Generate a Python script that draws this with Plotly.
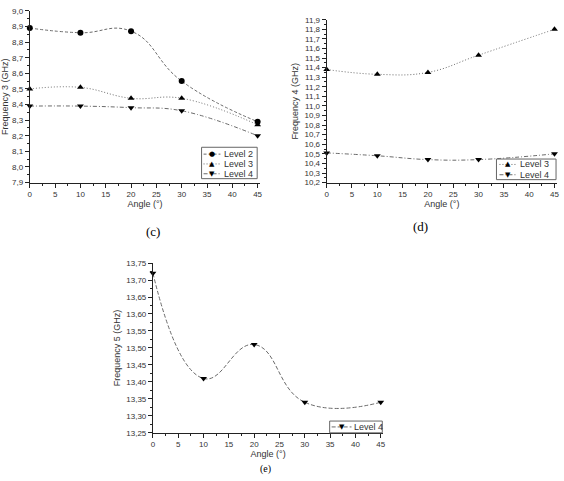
import plotly.graph_objects as go

angles = [0, 10, 20, 30, 45]

# (c) Frequency 3
c_level2 = [8.89, 8.86, 8.87, 8.55, 8.29]
c_level3 = [8.50, 8.51, 8.44, 8.44, 8.27]
c_level4 = [8.39, 8.39, 8.38, 8.36, 8.20]

# (d) Frequency 4
d_level3 = [11.38, 11.33, 11.35, 11.53, 11.80]
d_level4 = [10.51, 10.48, 10.44, 10.44, 10.50]

# (e) Frequency 5
e_level4 = [13.72, 13.41, 13.51, 13.34, 13.34]

W, H = 564, 481
def px(x): return x / W
def py(y): return 1 - y / H

FONT = "Liberation Sans, Arial, sans-serif"
SERIF = "Liberation Serif, Times New Roman, serif"
LINE = "#6a6a6a"
TXT = "#333333"

DASH2 = "3px,2px"
DASH3 = "1px,2px"
DASH4 = "4px,2px,1px,2px"
DASH5 = "4px,2px"

SYM = {"circle": "●", "triangle-up": "▲", "triangle-down": "▼"}

fig = go.Figure()

def add(x, y, name, sym, dash, xa, ya, smooth=1.2):
    fig.add_trace(go.Scatter(
        x=x, y=y, name=name, mode="lines+markers", showlegend=False,
        line=dict(shape="spline", smoothing=smooth, color=LINE, width=1, dash=dash),
        marker=dict(symbol=sym, size=6, color="black"),
        xaxis=xa, yaxis=ya, cliponaxis=False))

add(angles, c_level2, "Level 2", "circle", DASH2, "x", "y", 1.3)
add(angles, c_level3, "Level 3", "triangle-up", DASH3, "x", "y")
add(angles, c_level4, "Level 4", "triangle-down", DASH4, "x", "y")
add(angles, d_level3, "Level 3", "triangle-up", DASH3, "x2", "y2")
add(angles, d_level4, "Level 4", "triangle-down", DASH4, "x2", "y2")
add(angles, e_level4, "Level 4", "triangle-down", DASH5, "x3", "y3", 1.3)

def xaxis(dom, anchor):
    return dict(domain=dom, anchor=anchor, range=[0, 45.5], dtick=5, tick0=0,
                showgrid=False, zeroline=False, showline=True, linecolor="#222",
                linewidth=1, ticks="outside", ticklen=4, tickcolor="#222",
                minor=dict(ticks="outside", ticklen=2, dtick=2.5, tickcolor="#222"),
                tickfont=dict(size=8, family=FONT, color=TXT),
                title=dict(text="Angle (°)", font=dict(size=9, family=FONT, color=TXT), standoff=2))

def yaxis(dom, anchor, rng, dtick, fmt, title, minor):
    return dict(domain=dom, anchor=anchor, range=rng, dtick=dtick, tick0=rng[0],
                tickformat=fmt,
                showgrid=False, zeroline=False, showline=True, linecolor="#222",
                linewidth=1, ticks="outside", ticklen=4, tickcolor="#222",
                minor=dict(ticks="outside", ticklen=2, dtick=minor, tickcolor="#222"),
                tickfont=dict(size=8, family=FONT, color=TXT),
                title=dict(text=title, font=dict(size=9, family=FONT, color=TXT), standoff=4))

shapes = []
annotations = []

def legend(box, items, x_line, x_text, ys):
    x0, y0, x1, y1 = box
    shapes.append(dict(type="rect", xref="paper", yref="paper",
                       x0=px(x0), x1=px(x1), y0=py(y1), y1=py(y0),
                       line=dict(color="#666", width=1), fillcolor="white", layer="above"))
    for (name, sym, dash), yy in zip(items, ys):
        shapes.append(dict(type="line", xref="paper", yref="paper",
                           x0=px(x_line[0]), x1=px(x_line[1]), y0=py(yy), y1=py(yy),
                           line=dict(color=LINE, width=1, dash=dash), layer="above"))
        annotations.append(dict(text=SYM[sym], x=px((x_line[0] + x_line[1]) / 2), y=py(yy),
                                xref="paper", yref="paper", showarrow=False,
                                xanchor="center", yanchor="middle",
                                font=dict(size=7, family="DejaVu Sans", color="black")))
        annotations.append(dict(text=name, x=px(x_text), y=py(yy), xref="paper", yref="paper",
                                showarrow=False, xanchor="left", yanchor="middle",
                                font=dict(size=9, family=FONT, color=TXT)))

legend((201, 146, 257, 178),
       [("Level 2", "circle", DASH2), ("Level 3", "triangle-up", DASH3),
        ("Level 4", "triangle-down", DASH4)],
       (203, 220), 222, [153, 163, 173])
legend((498, 158, 558, 179),
       [("Level 3", "triangle-up", DASH3), ("Level 4", "triangle-down", DASH4)],
       (501, 519), 520, [163.5, 174])
legend((330, 425, 383, 437),
       [("Level 4", "triangle-down", DASH5)],
       (332, 352), 353, [431])

annotations += [
    dict(text="(c)", x=px(143), y=py(232), xref="paper", yref="paper", showarrow=False,
         font=dict(size=13, family=SERIF, color="black")),
    dict(text="(d)", x=px(431), y=py(227), xref="paper", yref="paper", showarrow=False,
         font=dict(size=13, family=SERIF, color="black")),
    dict(text="(e)", x=px(265), y=py(481), xref="paper", yref="paper", showarrow=False,
         yanchor="bottom", borderpad=0, font=dict(size=10, family=SERIF, color="black")),
]

fig.update_layout(
    width=W, height=H, margin=dict(l=0, r=0, t=0, b=0),
    plot_bgcolor="white", paper_bgcolor="white", separators=",.",
    showlegend=False,
    xaxis=xaxis([px(28), px(260)], "y"),
    yaxis=yaxis([py(182), py(7)], "x", [7.9, 9.0], 0.1, ".1f", "Frequency 3 (GHz)", 0.05),
    xaxis2=xaxis([px(327), px(559)], "y2"),
    yaxis2=yaxis([py(182), py(16)], "x2", [10.2, 11.9], 0.1, ".1f", "Frequency 4 (GHz)", 0.05),
    xaxis3=xaxis([px(152), px(384)], "y3"),
    yaxis3=yaxis([py(437), py(264)], "x3", [13.25, 13.75], 0.05, ".2f", "Frequency 5 (GHz)", 0.025),
    shapes=shapes,
    annotations=annotations,
)

fig.write_html("out.html")
